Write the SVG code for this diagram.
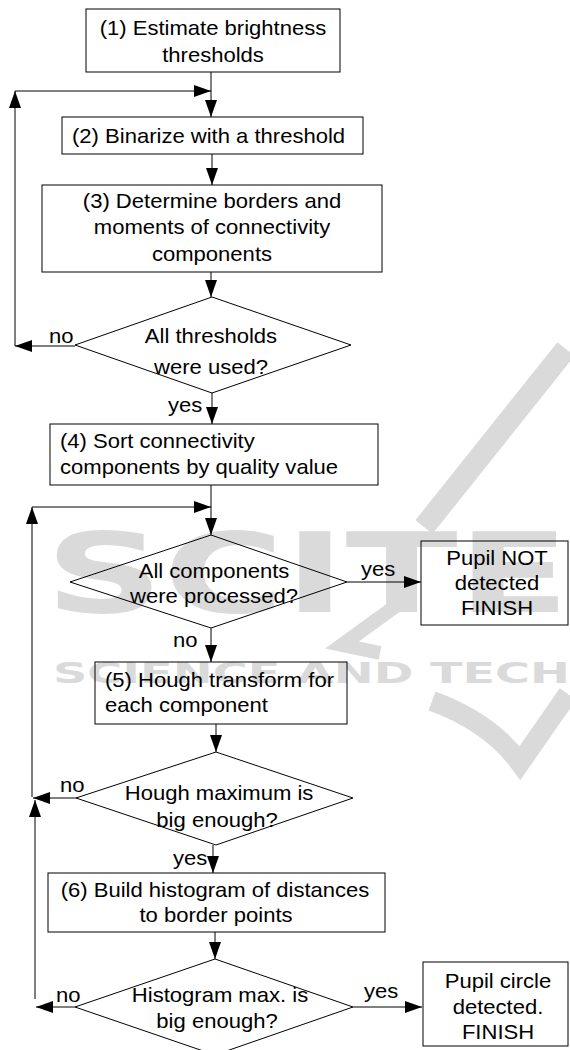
<svg xmlns="http://www.w3.org/2000/svg" width="570" height="1050" viewBox="0 0 570 1050">
<style>
.t{font-family:"Liberation Sans",Arial,sans-serif;font-size:21px;fill:#000}
.m{text-anchor:middle}
.box{fill:none;stroke:#000;stroke-width:1}
.ln{fill:none;stroke:#000;stroke-width:1}
.wm{fill:#dadada;font-family:"DejaVu Sans",sans-serif;font-weight:bold}
.wms{fill:none;stroke:#dadada}
</style>
<defs>
<marker id="ah" viewBox="0 0 17 12" refX="17" refY="6" markerWidth="17" markerHeight="12" markerUnits="userSpaceOnUse" orient="auto">
<path d="M0,0 L17,6 L0,12 z" fill="#000"/>
</marker>
</defs>
<rect width="570" height="1050" fill="#fff"/>
<g id="watermark">
<text class="wm" x="45" y="612" font-size="110" textLength="525" lengthAdjust="spacingAndGlyphs">SCITE</text>
<text class="wm" x="53" y="683" font-size="29" textLength="517" lengthAdjust="spacingAndGlyphs">SCIENCE AND TECH</text>
<path class="wms" d="M566 349 L424 527" stroke-width="22"/>
<path class="wms" d="M404 600 L342 645 L380 653" stroke-width="14"/>
<path class="wms" d="M432 701 Q490 722 520 763 L568 694" stroke-width="20"/>
</g>
<g id="connectors">
<path class="ln" d="M211 72 V117" marker-end="url(#ah)"/>
<path class="ln" d="M15 346 V91" marker-end="url(#ah)"/>
<path class="ln" d="M15 91 H211" marker-end="url(#ah)"/>
<path class="ln" d="M75 346 H15" marker-end="url(#ah)"/>
<path class="ln" d="M212 154 V185" marker-end="url(#ah)"/>
<path class="ln" d="M211 272 V297" marker-end="url(#ah)"/>
<path class="ln" d="M212 393 V424" marker-end="url(#ah)"/>
<path class="ln" d="M211 485 V535" marker-end="url(#ah)"/>
<path class="ln" d="M32 797 V507" marker-end="url(#ah)"/>
<path class="ln" d="M32 507 H211" marker-end="url(#ah)"/>
<path class="ln" d="M347 582 H421" marker-end="url(#ah)"/>
<path class="ln" d="M211 628 V662" marker-end="url(#ah)"/>
<path class="ln" d="M216 724 V752" marker-end="url(#ah)"/>
<path class="ln" d="M76 798 H33" marker-end="url(#ah)"/>
<path class="ln" d="M35 999 V800" marker-end="url(#ah)"/>
<path class="ln" d="M213 845 V873" marker-end="url(#ah)"/>
<path class="ln" d="M215 932 V959" marker-end="url(#ah)"/>
<path class="ln" d="M75 1007 H36" marker-end="url(#ah)"/>
<path class="ln" d="M353 1007 H422" marker-end="url(#ah)"/>
<text class="t" transform="translate(49,0) scale(1.05,1)" y="343">no</text>
<text class="t" transform="translate(168,0) scale(1.05,1)" y="412">yes</text>
<text class="t" transform="translate(361,0) scale(1.05,1)" y="576">yes</text>
<text class="t" transform="translate(173,0) scale(1.05,1)" y="647">no</text>
<text class="t" transform="translate(60,0) scale(1.05,1)" y="792">no</text>
<text class="t" transform="translate(173,0) scale(1.05,1)" y="865">yes</text>
<text class="t" transform="translate(56,0) scale(1.05,1)" y="1002">no</text>
<text class="t" transform="translate(364,0) scale(1.05,1)" y="998">yes</text>
</g>
<g id="n1">
<rect class="box" x="86" y="9" width="254" height="63"/>
<text class="t m" transform="translate(213,0) scale(1.05,1)" y="35">(1) Estimate brightness</text>
<text class="t m" transform="translate(213,0) scale(1.05,1)" y="62">thresholds</text>
</g>
<g id="n2">
<rect class="box" x="62" y="117" width="301" height="37"/>
<text class="t" transform="translate(72,0) scale(1.05,1)" y="143">(2) Binarize with a threshold</text>
</g>
<g id="n3">
<rect class="box" x="42" y="185" width="340" height="87"/>
<text class="t m" transform="translate(212,0) scale(1.05,1)" y="208">(3) Determine borders and</text>
<text class="t m" transform="translate(212,0) scale(1.05,1)" y="234">moments of connectivity</text>
<text class="t m" transform="translate(212,0) scale(1.05,1)" y="261">components</text>
</g>
<g id="d1">
<polygon class="box" points="212,297 351,345 212,393 75,345"/>
<text class="t m" transform="translate(211,0) scale(1.05,1)" y="343">All thresholds</text>
<text class="t m" transform="translate(211,0) scale(1.05,1)" y="374">were used?</text>
</g>
<g id="n4">
<rect class="box" x="50" y="424" width="328" height="61"/>
<text class="t" transform="translate(60,0) scale(1.05,1)" y="448">(4) Sort connectivity</text>
<text class="t" transform="translate(60,0) scale(1.05,1)" y="474">components by quality value</text>
</g>
<g id="d2">
<polygon class="box" points="211,535 347,582 211,628 70,582"/>
<text class="t m" transform="translate(214,0) scale(1.05,1)" y="578">All components</text>
<text class="t m" transform="translate(214,0) scale(1.05,1)" y="603">were processed?</text>
</g>
<g id="f1">
<rect class="box" x="421" y="541" width="147" height="84"/>
<text class="t m" transform="translate(497,0) scale(1.05,1)" y="565">Pupil NOT</text>
<text class="t m" transform="translate(497,0) scale(1.05,1)" y="590">detected</text>
<text class="t m" transform="translate(497,0) scale(1.05,1)" y="615">FINISH</text>
</g>
<g id="n5">
<rect class="box" x="95" y="662" width="252" height="62"/>
<text class="t" transform="translate(105,0) scale(1.05,1)" y="687">(5) Hough transform for</text>
<text class="t" transform="translate(105,0) scale(1.05,1)" y="712">each component</text>
</g>
<g id="d3">
<polygon class="box" points="216,752 353,798 216,845 76,798"/>
<text class="t m" transform="translate(219,0) scale(1.05,1)" y="800">Hough maximum is</text>
<text class="t m" transform="translate(217,0) scale(1.05,1)" y="827">big enough?</text>
</g>
<g id="n6">
<rect class="box" x="48" y="873" width="337" height="59"/>
<text class="t m" transform="translate(215,0) scale(1.05,1)" y="897">(6) Build histogram of distances</text>
<text class="t m" transform="translate(216,0) scale(1.05,1)" y="922">to border points</text>
</g>
<g id="d4">
<polygon class="box" points="215,959 353,1007 215,1055 75,1007"/>
<text class="t m" transform="translate(220,0) scale(1.05,1)" y="1002">Histogram max. is</text>
<text class="t m" transform="translate(217,0) scale(1.05,1)" y="1028">big enough?</text>
</g>
<g id="f2">
<rect class="box" x="423" y="962" width="145" height="84"/>
<text class="t m" transform="translate(498,0) scale(1.05,1)" y="988">Pupil circle</text>
<text class="t m" transform="translate(498,0) scale(1.05,1)" y="1014">detected.</text>
<text class="t m" transform="translate(498,0) scale(1.05,1)" y="1039">FINISH</text>
</g>
</svg>
